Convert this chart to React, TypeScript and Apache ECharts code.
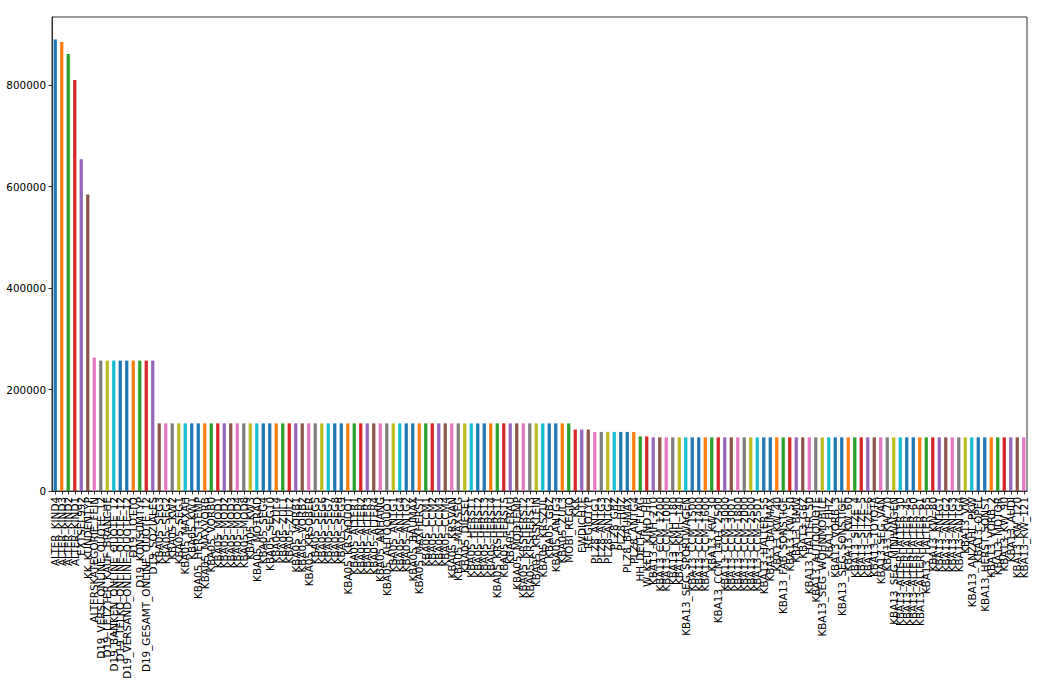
import React, { useEffect, useRef } from "react";
import * as echarts from "echarts";

const topNames = [
  "ALTER_KIND4", "ALTER_KIND3", "ALTER_KIND2", "ALTER_KIND1", "EXTSEL992",
  "KK_KUNDENTYP", "ALTERSKATEGORIE_FEIN",
];
const topValues = [890016, 885051, 861722, 810163, 654153, 584612, 262947];

const d19Names = [
  "D19_VERSI_ONLINE_QUOTE_12", "D19_LETZTER_KAUF_BRANCHE", "D19_BANKEN_ONLINE_QUOTE_12",
  "D19_TELKO_ONLINE_QUOTE_12", "D19_VERSAND_ONLINE_QUOTE_12", "D19_LOTTO",
  "D19_KONSUMTYP", "D19_GESAMT_ONLINE_QUOTE_12", "D19_SOZIALES",
];
const d19Values = [257113, 257113, 257113, 257113, 257113, 257113, 257113, 257113, 257113];

const kba05Names = [
  "KBA05_SEG3", "KBA05_SEG2", "KBA05_KW2", "KBA05_SEG1", "KBA05_MAXAH", "KBA05_KW1",
  "KBA05_HERSTTEMP", "KBA05_MAXVORB", "KBA05_VORB0", "KBA05_MOD1", "KBA05_MOD2",
  "KBA05_MOD3", "KBA05_MOD4", "KBA05_MOD8", "KBA05_KW3", "KBA05_MOTRAD", "KBA05_SEG4",
  "KBA05_SEG10", "KBA05_ZUL4", "KBA05_ZUL1", "KBA05_ZUL2", "KBA05_VORB1", "KBA05_VORB2",
  "KBA05_KRSOBER", "KBA05_SEG5", "KBA05_SEG6", "KBA05_SEG7", "KBA05_SEG8", "KBA05_SEG9",
  "KBA05_KRSAQUOT", "KBA05_ALTER1", "KBA05_ALTER2", "KBA05_ALTER3", "KBA05_ALTER4",
  "KBA05_ANHANG", "KBA05_AUTOQUOT", "KBA05_ANTG1", "KBA05_ANTG4", "KBA05_ANTG2",
  "KBA05_BAUMAX", "KBA05_MAXHERST", "KBA05_CCM1", "KBA05_CCM2", "KBA05_CCM3",
  "KBA05_CCM4", "KBA05_KRSVAN", "KBA05_MAXSEG", "KBA05_DIESEL", "KBA05_HERST1",
  "KBA05_HERST2", "KBA05_HERST3", "KBA05_HERST4", "KBA05_KRSHERST1", "KBA05_HERST5",
  "KBA05_FRAU", "KBA05_MODTEMP", "KBA05_KRSHERST2", "KBA05_KRSHERST3", "KBA05_KRSKLEIN",
  "KBA05_KRSZUL", "KBA05_GBZ", "KBA05_ANTG3", "KBA05_ZUL3", "MOBI_REGIO",
];
const kba05Values = [
  133324, 133324, 133324, 133324, 133324, 133324, 133324, 133324, 133324, 133324,
  133324, 133324, 133324, 133324, 133324, 133324, 133324, 133324, 133324, 133324,
  133324, 133324, 133324, 133324, 133324, 133324, 133324, 133324, 133324, 133324,
  133324, 133324, 133324, 133324, 133324, 133324, 133324, 133324, 133324, 133324,
  133324, 133324, 133324, 133324, 133324, 133324, 133324, 133324, 133324, 133324,
  133324, 133324, 133324, 133324, 133324, 133324, 133324, 133324, 133324, 133324,
  133324, 133324, 133324, 133324,
];

const regioNames = ["KKK", "EWDICHTE", "REGIOTYP"];
const regioValues = [121196, 121196, 121196];

const plz8Names = [
  "PLZ8_ANTG1", "PLZ8_ANTG3", "PLZ8_ANTG2", "PLZ8_GBZ", "PLZ8_HHZ", "PLZ8_BAUMAX", "PLZ8_ANTG4",
];
const plz8Values = [116515, 116515, 116515, 116515, 116515, 116515, 116515];

const hhNames = ["HH_DELTA_FLAG", "W_KEIT_KIND_HH"];
const hhValues = [107602, 107602];

const kba13Names = [
  "KBA13_KMH_210", "KBA13_CCM_1200", "KBA13_CCM_1000", "KBA13_KMH_180",
  "KBA13_KMH_140", "KBA13_SEG_SPORTWAGEN", "KBA13_CCM_1500", "KBA13_CCM_1400",
  "KBA13_CCM_1600", "KBA13_KW_30", "KBA13_CCM_1401_2500", "KBA13_CCM_3000",
  "KBA13_CCM_3001", "KBA13_CCM_1800", "KBA13_CCM_2000", "KBA13_CCM_2500",
  "KBA13_CCM_2501", "KBA13_HALTER_55", "KBA13_BAUMAX", "KBA13_KW_40",
  "KBA13_FAB_SONSTIGE", "KBA13_KW_50", "KBA13_BMW", "KBA13_GBZ", "KBA13_HALTER_50",
  "KBA13_AUTOQUOTE", "KBA13_SEG_WOHNMOBILE", "KBA13_HHZ", "KBA13_VORB_3",
  "KBA13_SEG_SONSTIGE", "KBA13_KW_60", "KBA13_SITZE_4", "KBA13_SITZE_5",
  "KBA13_SITZE_6", "KBA13_TOYOTA", "KBA13_SEG_VAN", "KBA13_KW_70",
  "KBA13_SEG_MINIWAGEN", "KBA13_ALTERHALTER_30", "KBA13_ALTERHALTER_45",
  "KBA13_ALTERHALTER_60", "KBA13_ALTERHALTER_61", "KBA13_HALTER_65", "KBA13_KW_80",
  "KBA13_ANTG1", "KBA13_ANTG2", "KBA13_ANTG3", "KBA13_ANTG4", "KBA13_VW",
  "KBA13_ANZAHL_PKW", "KBA13_OPEL", "KBA13_HERST_SONST", "KBA13_VORB_2",
  "KBA13_MOTOR", "KBA13_KW_90", "KBA13_AUDI", "KBA13_KW_120", "KBA13_KW_121",
];
const kba13Values = [
  105800, 105800, 105800, 105800, 105800, 105800, 105800, 105800, 105800, 105800,
  105800, 105800, 105800, 105800, 105800, 105800, 105800, 105800, 105800, 105800,
  105800, 105800, 105800, 105800, 105800, 105800, 105800, 105800, 105800, 105800,
  105800, 105800, 105800, 105800, 105800, 105800, 105800, 105800, 105800, 105800,
  105800, 105800, 105800, 105800, 105800, 105800, 105800, 105800, 105800, 105800,
  105800, 105800, 105800, 105800, 105800, 105800, 105800, 105800,
];

const yTicks = [0, 200000, 400000, 600000, 800000];

const palette = [
  "#1f77b4", "#ff7f0e", "#2ca02c", "#d62728", "#9467bd", "#8c564b",
  "#e377c2", "#7f7f7f", "#bcbd22", "#17becf", "#1f77b4",
];

const categories = [
  ...topNames, ...d19Names, ...kba05Names, ...regioNames, ...plz8Names, ...hhNames, ...kba13Names,
];
const values = [
  ...topValues, ...d19Values, ...kba05Values, ...regioValues, ...plz8Values, ...hhValues, ...kba13Values,
];

export default function App() {
  const ref = useRef<HTMLDivElement>(null);
  useEffect(() => {
    document.body.style.margin = "0";
    if (!ref.current) return;
    const chart = echarts.init(ref.current, null, { renderer: "svg" });
    const font = "DejaVu Sans";
    const yMax = Math.max(...values) * 1.05;
    chart.setOption({
      animation: false,
      backgroundColor: "#ffffff",
      grid: {
        left: 52,
        right: 36,
        top: 17,
        bottom: 204,
        show: true,
        borderColor: "#333333",
        borderWidth: 1,
        backgroundColor: "transparent",
      },
      xAxis: {
        type: "category",
        data: categories,
        boundaryGap: true,
        axisLine: { show: true, lineStyle: { color: "#333333", width: 1 } },
        axisTick: { show: true, alignWithLabel: true, length: 3.5, lineStyle: { color: "#000000", width: 0.8 } },
        axisLabel: {
          interval: 0,
          rotate: 90,
          margin: 6,
          fontFamily: font,
          fontSize: 10.4,
          color: "#000000",
          hideOverlap: false,
        },
        splitLine: { show: false },
      },
      yAxis: {
        type: "value",
        min: 0,
        max: yMax,
        interval: 200000,
        axisLine: { show: true, lineStyle: { color: "#333333", width: 1 } },
        axisTick: { show: true, length: 3.5, lineStyle: { color: "#000000", width: 0.8 } },
        axisLabel: {
          margin: 6,
          fontFamily: font,
          fontSize: 10.4,
          color: "#000000",
          showMaxLabel: false,
          formatter: (v: number) => (yTicks.includes(v) ? String(v) : ""),
        },
        splitLine: { show: false },
      },
      series: [
        {
          type: "bar",
          data: values.map((v, i) => ({ value: v, itemStyle: { color: palette[i % palette.length] } })),
          barWidth: "50%",
        },
      ],
    });
    return () => chart.dispose();
  }, []);
  return <div ref={ref} style={{ width: 1063, height: 695 }} />;
}
